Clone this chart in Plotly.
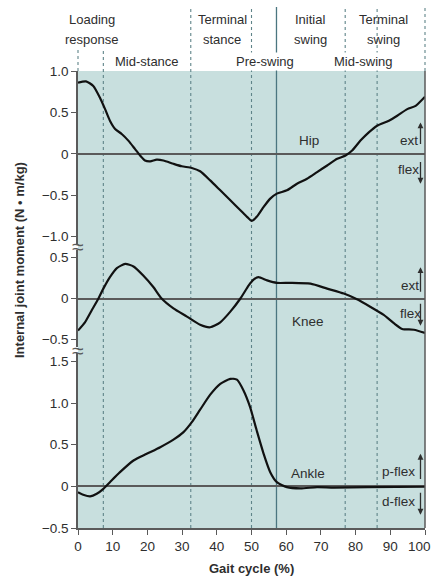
import plotly.graph_objects as go

# ---------------- data ----------------
hip_x = [0, 2.3, 4.4, 6.3, 7.8, 9.2, 10.7, 12.6, 14.5, 16.4, 17.9, 19.3, 20.8, 22.7, 24.6, 27.5, 29.9,
         32.8, 35.2, 38.1, 41, 43.9, 46.8, 48.7, 50.1, 51.5, 53.5, 55.4, 57.3, 60.2, 63.1, 66, 68.9,
         71.8, 74.7, 77.1, 79, 81.4, 83.8, 86.2, 89.6, 92, 94.9, 97.3, 100]
hip_y = [0.86, 0.875, 0.82, 0.68, 0.54, 0.40, 0.30, 0.24, 0.16, 0.06, -0.02, -0.08, -0.09, -0.07, -0.08,
         -0.12, -0.15, -0.17, -0.21, -0.32, -0.44, -0.56, -0.68, -0.76, -0.81, -0.76, -0.64, -0.54,
         -0.48, -0.44, -0.36, -0.30, -0.22, -0.14, -0.06, -0.02, 0.04, 0.16, 0.26, 0.34, 0.40, 0.46,
         0.54, 0.58, 0.69]

knee_x = [0, 2, 4, 5.9, 7.3, 9.2, 11.2, 13.6, 16, 18.8, 21.7, 24.1, 27.5, 31.4, 35.2, 38.1, 41, 43.9,
          46.8, 49.2, 50.6, 52, 54.5, 57.3, 61.2, 67, 71.8, 76.6, 80.4, 84.2, 88.1, 91, 93.4, 96.8, 100]
knee_y = [-0.39, -0.29, -0.14, 0, 0.12, 0.26, 0.37, 0.42, 0.39, 0.28, 0.14, 0, -0.12, -0.22, -0.32,
          -0.35, -0.29, -0.16, 0, 0.16, 0.23, 0.26, 0.22, 0.19, 0.19, 0.18, 0.12, 0.06, -0.01, -0.10,
          -0.20, -0.30, -0.37, -0.38, -0.42]

ankle_x = [0, 1.5, 3.5, 5.4, 7.3, 9.2, 12.1, 16, 19.8, 23.7, 27.5, 30.4, 32.8, 35.2, 38.1, 41, 43.9,
           45.8, 47.7, 49.6, 51.5, 53.5, 55.4, 57.3, 60.2, 64.1, 68.9, 73.7, 83.4, 100]
ankle_y = [-0.07, -0.10, -0.12, -0.09, -0.03, 0.05, 0.17, 0.31, 0.39, 0.47, 0.56, 0.65, 0.77, 0.92,
           1.10, 1.23, 1.29, 1.28, 1.15, 0.95, 0.67, 0.39, 0.17, 0.05, -0.01, -0.025, -0.01, -0.015,
           -0.01, -0.005]

x_ticks = [0, 10, 20, 30, 40, 50, 60, 70, 80, 90, 100]
hip_ticks = [1.0, 0.5, 0, -0.5, -1.0]
hip_ticktext = ["1.0", "0.5", "0", "\u22120.5", "\u22121.0"]
knee_ticks = [0.5, 0, -0.5]
knee_ticktext = ["0.5", "0", "\u22120.5"]
ankle_ticks = [1.5, 1.0, 0.5, 0, -0.5]
ankle_ticktext = ["1.5", "1.0", "0.5", "0", "\u22120.5"]

phase_dotted = [7.3, 32.5, 50, 77, 86.2]
toe_off = 57.2
phase_labels = [  # text, x (% gait), row (0 top)
    ("Loading", 4.0, 0), ("response", 4.0, 1), ("Mid-stance", 19.9, 2),
    ("Terminal", 41.6, 0), ("stance", 41.6, 1), ("Pre-swing", 54.0, 2),
    ("Initial", 67.0, 0), ("swing", 67.0, 1), ("Mid-swing", 82.3, 2),
    ("Terminal", 88.0, 0), ("swing", 88.0, 1),
]

# ---------------- layout constants ----------------
W, H = 434, 578
ML, MR, MT, MB = 78, 9, 71, 50
PH = H - MT - MB
PW = W - ML - MR
XR = [0, 100]


def py(px):  # pixel row -> paper y
    return (H - MB - px) / PH


def pxx(v):  # data x -> paper x
    return (v - XR[0]) / (XR[1] - XR[0])


BG = "#c8dfde"
DOT = "#5f8489"
AX = "#5a5a5a"
TXT = "#2e2e2e"
FONT = "Liberation Sans, Arial, sans-serif"

fig = go.Figure()
for xs, ys, ya in [(hip_x, hip_y, "y"), (knee_x, knee_y, "y2"), (ankle_x, ankle_y, "y3")]:
    fig.add_trace(go.Scatter(x=xs, y=ys, xaxis="x", yaxis=ya, mode="lines",
                             line=dict(color="#111111", width=2.2, shape="spline", smoothing=0.6),
                             showlegend=False, hoverinfo="skip"))

yax_common = dict(showgrid=False, zeroline=True, zerolinecolor=AX, zerolinewidth=1.5,
                  showline=True, linecolor=AX, linewidth=1.5, ticks="outside", ticklen=5,
                  tickcolor=AX, tickwidth=1.3, anchor="x", tickmode="array", automargin=False,
                  tickfont=dict(family=FONT, size=13.5, color=TXT))

# last x tick label is placed as an annotation so it stays inside the page
x_ticktext = [str(v) for v in x_ticks[:-1]] + [""]

fig.update_layout(
    width=W, height=H,
    margin=dict(l=ML, r=MR, t=MT, b=MB, autoexpand=False),
    paper_bgcolor="white", plot_bgcolor="rgba(0,0,0,0)",
    font=dict(family=FONT, color=TXT),
    xaxis=dict(range=XR, domain=[0, 1], anchor="y3", showgrid=False, zeroline=False,
               showline=True, linecolor=AX, linewidth=1.5, ticks="outside", ticklen=5,
               tickcolor=AX, tickwidth=1.3, tickmode="array", tickvals=x_ticks,
               ticktext=x_ticktext, automargin=False,
               tickfont=dict(family=FONT, size=13.5, color=TXT)),
    yaxis=dict(range=[-1.09, 1.0], domain=[py(244.2), 1.0], tickvals=hip_ticks,
               ticktext=hip_ticktext, **yax_common),
    yaxis2=dict(range=[-0.59, 0.59], domain=[py(347), py(250)], tickvals=knee_ticks,
                ticktext=knee_ticktext, **yax_common),
    yaxis3=dict(range=[-0.5, 1.6], domain=[0, py(353)], tickvals=ankle_ticks,
                ticktext=ankle_ticktext, **yax_common),
)

shapes = []
# background shading
shapes.append(dict(type="rect", xref="paper", yref="paper", x0=0, x1=1, y0=0, y1=1,
                   fillcolor=BG, line=dict(width=0), layer="below"))
# dotted phase lines
for v in phase_dotted:
    top = py(50) if v < 10 else py(7)
    shapes.append(dict(type="line", xref="paper", yref="paper", x0=pxx(v), x1=pxx(v), y0=0, y1=top,
                       line=dict(color=DOT, width=1.1, dash="dot"), layer="below"))
# dotted extension above axis at 0 and 100
shapes.append(dict(type="line", xref="paper", yref="paper", x0=pxx(0), x1=pxx(0), y0=1, y1=py(50),
                   line=dict(color=DOT, width=1.1, dash="dot"), layer="below"))
shapes.append(dict(type="line", xref="paper", yref="paper", x0=pxx(100), x1=pxx(100), y0=1, y1=py(7),
                   line=dict(color=DOT, width=1.1, dash="dot"), layer="below"))
# right border
shapes.append(dict(type="line", xref="paper", yref="paper", x0=pxx(100), x1=pxx(100), y0=0, y1=1,
                   line=dict(color=AX, width=1.5), layer="above"))
# toe-off solid line
shapes.append(dict(type="line", xref="paper", yref="paper", x0=pxx(toe_off), x1=pxx(toe_off),
                   y0=0, y1=py(7), line=dict(color="#4b7680", width=1.3), layer="below"))
fig.update_layout(shapes=shapes)

ann = []
row_y = [py(20), py(40), py(61)]
for text, xv, row in phase_labels:
    ann.append(dict(text=text, x=xv, xref="x", y=row_y[row], yref="paper", showarrow=False,
                    xanchor="center", yanchor="middle", font=dict(size=13, color=TXT),
                    bgcolor="white" if row == 2 else None))

# in-panel labels
panel_text = [
    ("Hip", 66.5, 0.16, "y"), ("ext", 95.5, 0.16, "y"), ("flex", 95.3, -0.19, "y"),
    ("Knee", 66.3, -0.28, "y2"), ("ext", 95.7, 0.16, "y2"), ("flex", 95.7, -0.18, "y2"),
    ("Ankle", 66.4, 0.16, "y3"), ("p-flex", 92.4, 0.18, "y3"), ("d-flex", 92.4, -0.18, "y3"),
]
for text, xv, yv, yr in panel_text:
    ann.append(dict(text=text, x=xv, xref="x", y=yv, yref=yr, showarrow=False,
                    xanchor="center", yanchor="middle", font=dict(size=13.5, color=TXT)))

# arrows (head, tail)
arrows = [
    (0.38, 0.10, "y"), (-0.36, -0.08, "y"),
    (0.38, 0.065, "y2"), (-0.33, -0.045, "y2"),
    (0.39, 0.07, "y3"), (-0.34, -0.06, "y3"),
]
for head, tail, yr in arrows:
    ann.append(dict(text="", x=98.7, y=head, xref="x", yref=yr, ax=98.7, ay=tail,
                    axref="x", ayref=yr, showarrow=True, arrowhead=2, arrowsize=0.9,
                    arrowwidth=1.3, arrowcolor=TXT))

# last x tick label, kept inside the page edge
ann.append(dict(text=str(x_ticks[-1]), x=(W - 1 - ML) / PW, xref="paper", y=py(546), yref="paper",
                showarrow=False, xanchor="right", yanchor="middle",
                font=dict(family=FONT, size=13.5, color=TXT)))

# axis break marks
for yb in [py(247), py(350)]:
    ann.append(dict(text="\u2248", x=0, xref="paper", y=yb, yref="paper", showarrow=False,
                    xanchor="center", yanchor="middle", font=dict(size=21, color=AX)))

# axis titles
ann.append(dict(text="<b>Internal joint moment (N \u2022 m/kg)</b>", x=(19 - ML) / PW,
                xref="paper", y=py(260), yref="paper", textangle=-90, showarrow=False,
                xanchor="center", yanchor="middle", font=dict(size=13, color=TXT)))
ann.append(dict(text="<b>Gait cycle (%)</b>", x=0.5, xref="paper", y=py(568), yref="paper",
                showarrow=False, xanchor="center", yanchor="middle", font=dict(size=13, color=TXT)))

fig.update_layout(annotations=ann)
fig.write_html("out.html", config={"displayModeBar": False},
               post_script="document.body.style.margin='0';document.body.style.overflow='hidden';")
